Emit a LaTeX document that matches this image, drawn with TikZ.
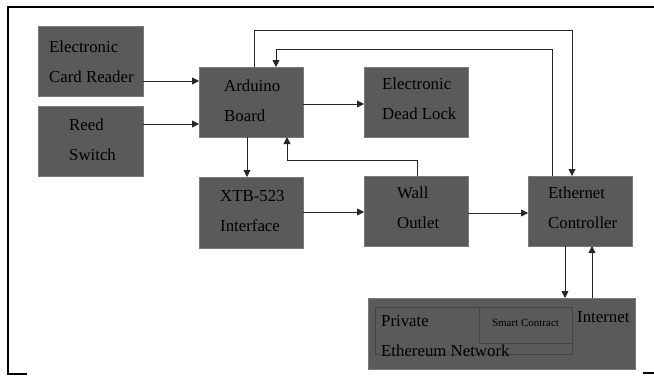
\documentclass[tikz,border=0pt]{standalone}
\usepackage{fontspec}
\setmainfont{Liberation Serif}
\usetikzlibrary{arrows.meta}
\definecolor{boxfill}{HTML}{5A5A5A}
\definecolor{boxline}{HTML}{7A7A7A}
\definecolor{innerline}{HTML}{444444}
\begin{document}
\begin{tikzpicture}[x=1pt,y=-1pt,
  blk/.style={draw=boxline, fill=boxfill, line width=1pt, inner sep=0pt, outer sep=0pt, anchor=north west},
  inner/.style={draw=innerline, line width=1pt, inner sep=0pt, outer sep=0pt, anchor=north west},
  txt/.style={inner sep=0pt, anchor=base west, font=\fontsize{16.8}{20}\selectfont},
  small/.style={inner sep=0pt, anchor=base, font=\fontsize{11}{13}\selectfont},
  arr/.style={draw=black!85, line width=0.8pt, -{Triangle[length=7pt,width=7pt]}}]
\useasboundingbox (0,0) rectangle (654,376);
% frame
\draw[line width=2pt] (27,373.5) -- (8,373.5) -- (8,7) -- (654,7);
\draw[line width=2pt] (643,372.5) -- (654,372.5);
% boxes
\node[blk, minimum width=105pt, minimum height=70pt] (card) at (38,26) {};
\node[blk, minimum width=105pt, minimum height=70pt] (reed) at (38,106) {};
\node[blk, minimum width=104pt, minimum height=70pt] (ard) at (199,67) {};
\node[blk, minimum width=104pt, minimum height=70pt] (lock) at (364,67) {};
\node[blk, minimum width=104pt, minimum height=71pt] (xtb) at (199,177) {};
\node[blk, minimum width=104pt, minimum height=70pt] (wall) at (364,176) {};
\node[blk, minimum width=104pt, minimum height=70pt] (eth) at (528,176) {};
\node[blk, minimum width=267pt, minimum height=71pt] (net) at (368,298) {};
\node[inner, minimum width=197pt, minimum height=47pt] (priv) at (375,307) {};
\node[inner, minimum width=93pt, minimum height=36pt] (smart) at (479,307) {};
% texts
\node[txt] (t1) at (49,52) {Electronic};
\node[txt] (t2) at (49,82) {Card Reader};
\node[txt] (t3) at (69,130) {Reed};
\node[txt] (t4) at (69,160) {Switch};
\node[txt] (t5) at (224,91) {Arduino};
\node[txt] (t6) at (224,121) {Board};
\node[txt] (t7) at (382,89) {Electronic};
\node[txt] (t8) at (382,119) {Dead Lock};
\node[txt] (t9) at (220,201) {XTB-523};
\node[txt] (t10) at (220,231) {Interface};
\node[txt] (t11) at (397,198) {Wall};
\node[txt] (t12) at (397,228) {Outlet};
\node[txt] (t13) at (548,198) {Ethernet};
\node[txt] (t14) at (548,228) {Controller};
\node[txt] (t15) at (381,326) {Private};
\node[txt] (t16) at (381,356) {Ethereum Network};
\node[txt] (t17) at (577,322) {Internet};
\node[small] (t18) at (525.5,326) {Smart Contract};
% connectors
\draw[arr] (card.east |- 0,81) -- (ard.west |- 0,81);
\draw[arr] (reed.east |- 0,124) -- (ard.west |- 0,124);
\draw[arr] (ard.north -| 254,0) |- (572,30) -- (eth.north -| 572,0);
\draw[arr] (eth.north -| 552,0) |- (276,49) -- (ard.north -| 276,0);
\draw[arr] (ard.east |- 0,104) -- (lock.west |- 0,104);
\draw[arr] (ard.south -| 247,0) -- (xtb.north -| 247,0);
\draw[arr] (wall.north -| 417,0) |- (287,160) -- (ard.south -| 287,0);
\draw[arr] (xtb.east |- 0,212) -- (wall.west |- 0,212);
\draw[arr] (wall.east |- 0,213) -- (eth.west |- 0,213);
\draw[arr] (eth.south -| 565,0) -- (net.north -| 565,0);
\draw[arr] (net.north -| 592,0) -- (eth.south -| 592,0);
\end{tikzpicture}
\end{document}
